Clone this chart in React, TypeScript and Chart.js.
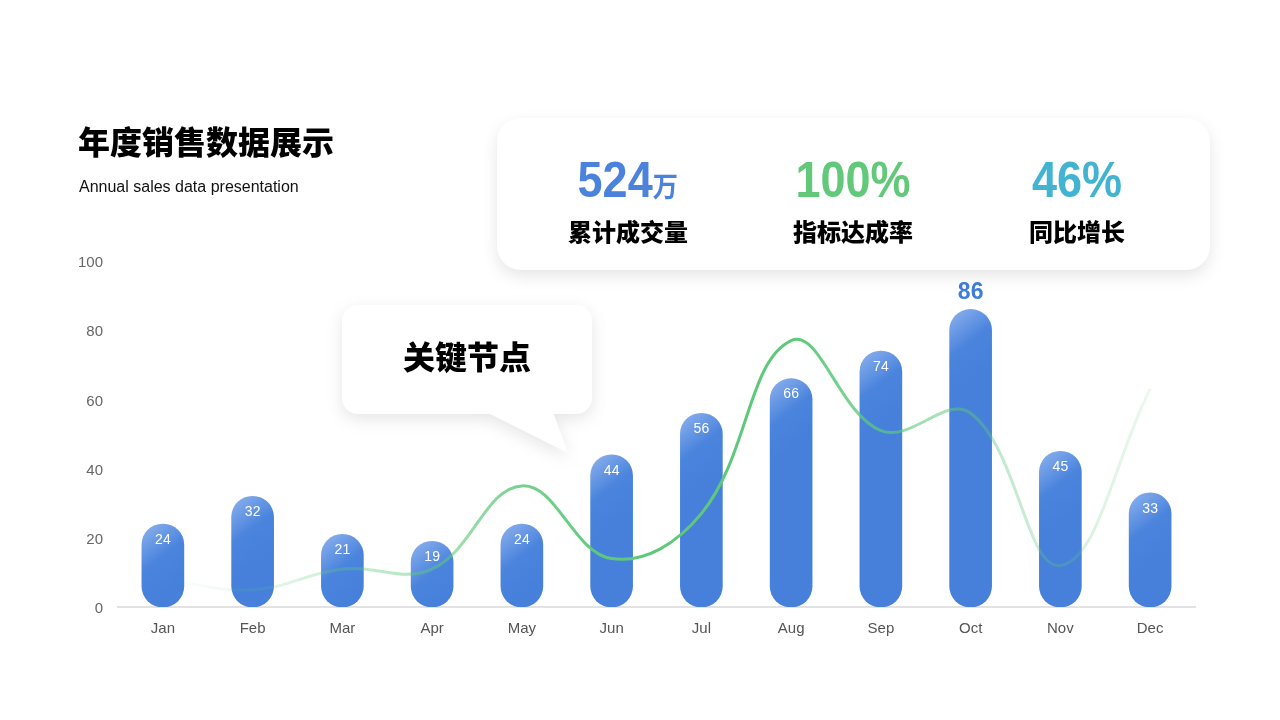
import React, { useEffect, useRef } from 'react';
import Chart from 'chart.js/auto';

const months = ['Jan', 'Feb', 'Mar', 'Apr', 'May', 'Jun', 'Jul', 'Aug', 'Sep', 'Oct', 'Nov', 'Dec'];
const salesValues = [24, 32, 21, 19, 24, 44, 56, 66, 74, 86, 45, 33];
const trendValues = [8, 5, 11, 11, 35, 14, 27, 77, 51, 56, 12, 63];

const kpiValues = ['524', '100%', '46%'];
const kpiUnits = ['万', '', ''];
const kpiLabels = ['累计成交量', '指标达成率', '同比增长'];
const kpiColors = ['#4a82dc', '#62c97a', '#42b4d2'];

const FONT = '"Liberation Sans", "Noto Sans CJK SC", sans-serif';

const ok = (...n: number[]) => n.every((v) => Number.isFinite(v));

const barLabels = {
  id: 'barLabels',
  afterDatasetsDraw(chart: any) {
    const { ctx } = chart;
    const meta = chart.getDatasetMeta(1);
    const max = Math.max(...salesValues);
    ctx.save();
    ctx.textAlign = 'center';
    ctx.textBaseline = 'middle';
    meta.data.forEach((bar: any, i: number) => {
      const v = salesValues[i];
      if (v === max) {
        ctx.font = `700 23px ${FONT}`;
        ctx.fillStyle = '#3f7ddb';
        ctx.fillText(String(v), bar.x, bar.y - 17);
      } else {
        ctx.font = `14px ${FONT}`;
        ctx.fillStyle = '#ffffff';
        ctx.fillText(String(v), bar.x, bar.y + 16);
      }
    });
    ctx.restore();
  },
};

function SalesChart() {
  const canvasRef = useRef<HTMLCanvasElement | null>(null);
  const chartRef = useRef<Chart | null>(null);

  useEffect(() => {
    if (!canvasRef.current) return;
    if (chartRef.current) chartRef.current.destroy();

    chartRef.current = new Chart(canvasRef.current, {
      type: 'bar',
      data: {
        labels: months,
        datasets: [
          {
            type: 'line',
            label: 'trend',
            data: trendValues,
            order: 0,
            tension: 0.4,
            borderWidth: 3,
            pointRadius: 0,
            fill: false,
            borderColor: (c: any) => {
              const chart = c.chart;
              const area = chart.chartArea;
              if (!area || !ok(area.left, area.right) || area.right <= area.left) return 'rgba(94,201,122,1)';
              const g = chart.ctx.createLinearGradient(area.left, 0, area.right, 0);
              g.addColorStop(0.04, 'rgba(94,201,122,0)');
              g.addColorStop(0.125, 'rgba(94,201,122,0.12)');
              g.addColorStop(0.21, 'rgba(94,201,122,0.32)');
              g.addColorStop(0.29, 'rgba(94,201,122,0.5)');
              g.addColorStop(0.375, 'rgba(94,201,122,0.85)');
              g.addColorStop(0.46, 'rgba(94,201,122,1)');
              g.addColorStop(0.63, 'rgba(94,201,122,1)');
              g.addColorStop(0.71, 'rgba(94,201,122,0.7)');
              g.addColorStop(0.79, 'rgba(94,201,122,0.45)');
              g.addColorStop(0.875, 'rgba(94,201,122,0.28)');
              g.addColorStop(0.96, 'rgba(94,201,122,0.12)');
              return g;
            },
          } as any,
          {
            type: 'bar',
            label: 'sales',
            data: salesValues,
            order: 1,
            barThickness: 42,
            borderRadius: 21,
            borderSkipped: false,
            backgroundColor: (c: any) => {
              const chart = c.chart;
              const x = chart.scales.x;
              const y = chart.scales.y;
              if (!x || !y || c.type !== 'data') return '#4680db';
              const cx = x.getPixelForValue(c.dataIndex);
              const top = y.getPixelForValue(salesValues[c.dataIndex]);
              if (!ok(cx, top)) return '#4680db';
              const g = chart.ctx.createLinearGradient(cx - 21, top, cx + 21, top + 55);
              g.addColorStop(0, '#8fb3ee');
              g.addColorStop(0.55, '#4b84dd');
              g.addColorStop(1, '#4680db');
              return g;
            },
          },
        ],
      },
      options: {
        responsive: false,
        animation: false,
        layout: {
          padding: { left: 0, top: 261, right: 85, bottom: 73 },
        },
        plugins: {
          legend: { display: false },
          tooltip: { enabled: false },
        },
        scales: {
          x: {
            grid: { display: false, drawTicks: false },
            border: { display: true, color: '#e2e2e2', width: 2 },
            ticks: {
              color: '#555',
              padding: 13,
              font: { family: FONT, size: 15 },
            },
            afterFit: (scale: any) => {
              scale.height = 40;
            },
          },
          y: {
            min: 0,
            max: 100,
            grid: { display: false, drawTicks: false },
            border: { display: false },
            ticks: {
              stepSize: 20,
              color: '#666',
              padding: 15,
              labelOffset: 2,
              font: { family: FONT, size: 15 },
            },
            afterFit: (scale: any) => {
              scale.width = 118;
            },
          },
        },
      },
      plugins: [barLabels],
    });

    return () => {
      if (chartRef.current) {
        chartRef.current.destroy();
        chartRef.current = null;
      }
    };
  }, []);

  return (
    <canvas
      ref={canvasRef}
      width={1280}
      height={720}
      style={{ position: 'absolute', left: 0, top: 0, width: 1280, height: 720 }}
    />
  );
}

export default function App() {
  const centers = [628, 853, 1077];

  return (
    <div
      style={{
        position: 'fixed',
        left: 0,
        top: 0,
        width: 1280,
        height: 720,
        background: '#fff',
        fontFamily: FONT,
        overflow: 'hidden',
      }}
    >
      <SalesChart />

      {/* title */}
      <div
        style={{
          position: 'absolute',
          left: 78,
          top: 125,
          fontSize: 32,
          lineHeight: '36px',
          fontWeight: 900,
          color: '#000',
        }}
      >
        年度销售数据展示
      </div>
      <div
        style={{
          position: 'absolute',
          left: 79,
          top: 178,
          fontSize: 16,
          lineHeight: '18px',
          color: '#111',
        }}
      >
        Annual sales data presentation
      </div>

      {/* kpi card */}
      <div
        style={{
          position: 'absolute',
          left: 497,
          top: 118,
          width: 713,
          height: 152,
          borderRadius: 24,
          background: '#fff',
          boxShadow: '0 6px 16px rgba(0,0,0,0.10)',
        }}
      />
      {kpiValues.map((v, i) => (
        <React.Fragment key={v}>
          <div
            style={{
              position: 'absolute',
              left: centers[i] - 120,
              top: 155,
              width: 240,
              textAlign: 'center',
              fontSize: 50,
              lineHeight: '50px',
              fontWeight: 700,
              color: kpiColors[i],
              whiteSpace: 'nowrap',
            }}
          >
            <span style={{ display: 'inline-block', transform: 'scaleX(0.9)' }}>
              {v}
              {kpiUnits[i] && <span style={{ fontSize: 28 }}>{kpiUnits[i]}</span>}
            </span>
          </div>
          <div
            style={{
              position: 'absolute',
              left: centers[i] - 120,
              top: 220,
              width: 240,
              textAlign: 'center',
              fontSize: 24,
              lineHeight: '26px',
              fontWeight: 900,
              color: '#000',
            }}
          >
            {kpiLabels[i]}
          </div>
        </React.Fragment>
      ))}

      {/* callout bubble */}
      <div
        style={{
          position: 'absolute',
          left: 0,
          top: 0,
          width: 1280,
          height: 720,
          filter: 'drop-shadow(0 5px 8px rgba(0,0,0,0.10))',
          pointerEvents: 'none',
        }}
      >
        <svg width={1280} height={720} style={{ position: 'absolute', left: 0, top: 0 }}>
          <rect x={342} y={305} width={250} height={109} rx={16} ry={16} fill="#fff" />
          <polygon points="486,412 553,412 568,453" fill="#fff" />
        </svg>
        <div
          style={{
            position: 'absolute',
            left: 342,
            top: 340,
            width: 250,
            textAlign: 'center',
            fontSize: 32,
            lineHeight: '36px',
            fontWeight: 900,
            color: '#000',
          }}
        >
          关键节点
        </div>
      </div>
    </div>
  );
}
